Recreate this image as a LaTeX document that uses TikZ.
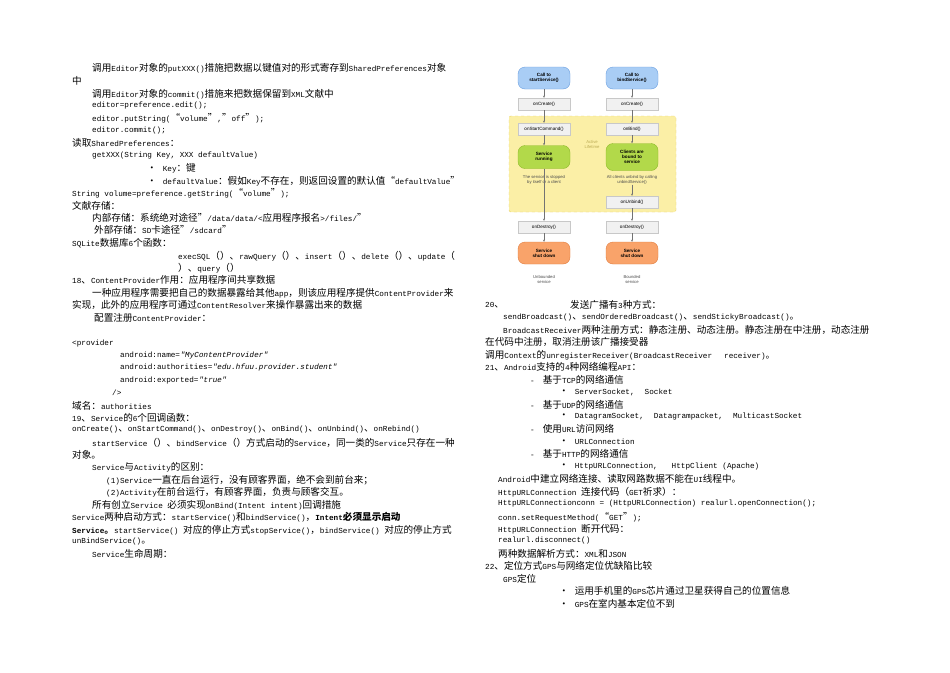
\documentclass[tikz,border=0pt]{standalone}
\usepackage{fontspec}
\setmainfont{Liberation Mono}
\newfontfamily\latf[Scale=0.8]{Liberation Mono}
\newfontfamily\cjkf{Noto Sans CJK SC}
\newfontfamily\itf[FakeSlant=0.2,Scale=0.8]{Liberation Mono}
\newfontfamily\dgf{Liberation Sans}
\makeatletter
\newXeTeXintercharclass\cjkc
\def\setcls#1#2{\count@=#1\relax\loop\XeTeXcharclass\count@=\cjkc\relax\ifnum\count@<#2\advance\count@ by 1\repeat}
\setcls{"4E00}{"9FFF}
\setcls{"3000}{"303F}
\setcls{"FF00}{"FFEF}
\setcls{"2018}{"201F}
\setcls{"2022}{"2022}
\makeatother
\XeTeXinterchartoks 0 \cjkc = {\cjkf}
\XeTeXinterchartoks 4095 \cjkc = {\cjkf}
\XeTeXinterchartoks \cjkc 0 = {\latf}
\XeTeXinterchartoks \cjkc 4095 = {\latf}
\usetikzlibrary{arrows.meta}
\definecolor{bluef}{HTML}{A9CDF5}\definecolor{blued}{HTML}{6A9FE0}
\definecolor{greenf}{HTML}{B2D94A}\definecolor{greend}{HTML}{8CB828}
\definecolor{orangef}{HTML}{F9A36A}\definecolor{oranged}{HTML}{E07C3E}
\definecolor{yelf}{HTML}{FBEFA6}\definecolor{yeld}{HTML}{E8D468}
\definecolor{grayf}{HTML}{F1F1F1}\definecolor{grayd}{HTML}{C8C8C8}
\newcounter{lnc}
\newcommand\txtline[3]{\stepcounter{lnc}\node[txt] (l\arabic{lnc}) at (#1,#2) {#3};}
\begin{document}
\XeTeXinterchartokenstate=1
\begin{tikzpicture}[x=1pt,y=-1pt,
 txt/.style={anchor=west,inner sep=0pt,font=\fontsize{9.6}{11}\selectfont\latf},
 pill/.style={rounded corners=7pt,draw,line width=0.4pt,minimum width=52pt,align=center,inner sep=1pt,font=\dgf\fontsize{4.6}{5.2}\selectfont\bfseries},
 gbox/.style={draw=grayd,fill=grayf,line width=0.4pt,minimum width=52pt,minimum height=12pt,inner sep=1pt,font=\dgf\fontsize{4.6}{5.2}\selectfont},
 note/.style={align=center,inner sep=0pt,text=black!70,font=\dgf\fontsize{4.2}{5}\selectfont},
 arr/.style={draw=black!55,line width=0.4pt,-{Stealth[length=2.2pt,width=2pt]}}]
\useasboundingbox[fill=white] (0,0) rectangle (950,672);
% left column
\txtline{92}{68}{调用Editor对象的putXXX()措施把数据以键值对的形式寄存到SharedPreferences对象}
\txtline{72}{81}{中}
\txtline{92}{94}{调用Editor对象的commit()措施来把数据保留到XML文献中}
\txtline{92}{106}{editor=preference.edit();}
\txtline{92}{118}{editor.putString(“volume”,”off”);}
\txtline{92}{131}{editor.commit();}
\txtline{72}{143}{读取SharedPreferences：}
\txtline{92}{156}{getXXX(String Key, XXX defaultValue)}
\txtline{147}{168}{•\hspace{6pt}Key：键}
\txtline{147}{181}{•\hspace{6pt}defaultValue：假如Key不存在，则返回设置的默认值“defaultValue”}
\txtline{72}{193}{String volume=preference.getString(“volume”);}
\txtline{72}{206}{文献存储：}
\txtline{92}{218}{内部存储：系统绝对途径”/data/data/<应用程序报名>/files/”}
\txtline{94}{230}{外部存储：SD卡途径”/sdcard”}
\txtline{72}{243}{SQLite数据库6个函数：}
\txtline{178}{256}{execSQL（）、rawQuery（）、insert（）、delete（）、update（}
\txtline{178}{268}{）、query（）}
\txtline{72}{280}{18、ContentProvider作用：应用程序间共享数据}
\txtline{92}{293}{一种应用程序需要把自己的数据暴露给其他app，则该应用程序提供ContentProvider来}
\txtline{72}{305}{实现，此外的应用程序可通过ContentResolver来操作暴露出来的数据}
\txtline{94}{318}{配置注册ContentProvider：}
\txtline{72}{344}{<provider}
\txtline{120}{356}{android:name={\itf "MyContentProvider"}}
\txtline{120}{368}{android:authorities={\itf "edu.hfuu.provider.student"}}
\txtline{120}{381}{android:exported={\itf "true"}}
\txtline{112}{393}{/>}
\txtline{72}{406}{域名：authorities}
\txtline{72}{418}{19、Service的6个回调函数：}
\txtline{72}{430}{onCreate()、onStartCommand()、onDestroy()、onBind()、onUnbind()、onRebind()}
\txtline{92}{443}{startService（）、bindService（）方式启动的Service，同一类的Service只存在一种}
\txtline{72}{455}{对象。}
\txtline{92}{467}{Service与Activity的区别：}
\txtline{106}{480}{(1)Service一直在后台运行，没有顾客界面，绝不会到前台来；}
\txtline{106}{492}{(2)Activity在前台运行，有顾客界面，负责与顾客交互。}
\txtline{92}{505}{所有创立Service 必须实现onBind(Intent intent)回调措施}
\txtline{72}{517}{Service两种启动方式：startService()和bindService()，\textbf{Intent必须显示启动}}
\txtline{72}{530}{\textbf{Service。}startService() 对应的停止方式stopService()，bindService() 对应的停止方式}
\txtline{72}{542}{unBindService()。}
\txtline{92}{554}{Service生命周期：}
% right column
\txtline{485}{305}{20、}
\txtline{570}{305}{发送广播有3种方式：}
\txtline{503}{318}{sendBroadcast()、sendOrderedBroadcast()、sendStickyBroadcast()。}
\txtline{503}{330}{BroadcastReceiver两种注册方式：静态注册、动态注册。静态注册在中注册，动态注册}
\txtline{485}{342}{在代码中注册，取消注册该广播接受器}
\txtline{485}{355}{调用Context的unregisterReceiver(BroadcastReceiver\hspace{12pt}receiver)。}
\txtline{485}{367}{21、Android支持的4种网络编程API：}
\txtline{530}{380}{-\hspace{8pt}基于TCP的网络通信}
\txtline{559}{392}{•\hspace{6pt}ServerSocket,\hspace{10pt}Socket}
\txtline{530}{405}{-\hspace{8pt}基于UDP的网络通信}
\txtline{559}{417}{•\hspace{6pt}DatagramSocket,\hspace{10pt}Datagrampacket,\hspace{10pt}MulticastSocket}
\txtline{530}{429}{-\hspace{8pt}使用URL访问网络}
\txtline{559}{442}{•\hspace{6pt}URLConnection}
\txtline{530}{454}{-\hspace{8pt}基于HTTP的网络通信}
\txtline{559}{467}{•\hspace{6pt}HttpURLConnection,\hspace{14pt}HttpClient (Apache)}
\txtline{498}{479}{Android中建立网络连接、读取网路数据不能在UI线程中。}
\txtline{498}{492}{HttpURLConnection 连接代码（GET祈求）：}
\txtline{498}{504}{HttpURLConnectionconn = (HttpURLConnection) realurl.openConnection();}
\txtline{498}{517}{conn.setRequestMethod(“GET”);}
\txtline{498}{529}{HttpURLConnection 断开代码：}
\txtline{498}{541}{realurl.disconnect()}
\txtline{498}{554}{两种数据解析方式：XML和JSON}
\txtline{485}{566}{22、定位方式GPS与网络定位优缺陷比较}
\txtline{503}{579}{GPS定位}
\txtline{559}{591}{•\hspace{6pt}运用手机里的GPS芯片通过卫星获得自己的位置信息}
\txtline{559}{604}{•\hspace{6pt}GPS在室内基本定位不到}
% diagram
\node[draw=yeld,fill=yelf,dashed,line width=0.4pt,rounded corners=2pt,minimum width=167pt,minimum height=96pt] (active) at (592.5,164) {};
\node[note,text=yeld!80!black] (al) at (592,144) {Active\\Lifetime};
\node[pill,fill=bluef,draw=blued,minimum height=22pt] (s1) at (544,78) {Call to\\startService()};
\node[pill,fill=bluef,draw=blued,minimum height=22pt] (b1) at (632,78) {Call to\\bindService()};
\node[gbox] (s2) at (544,104) {onCreate()};
\node[gbox] (b2) at (632,104) {onCreate()};
\node[gbox] (s3) at (544,129) {onStartCommand()};
\node[gbox] (b3) at (632,129) {onBind()};
\node[pill,fill=greenf,draw=greend,minimum height=23pt] (s4) at (544,157) {Service\\running};
\node[pill,fill=greenf,draw=greend,minimum height=27pt] (b4) at (632,157) {Clients are\\bound to\\service};
\node[note] (sn) at (544,180) {The service is stopped\\by itself or a client};
\node[note] (bn) at (632,180) {All clients unbind by calling\\unbindService()};
\node[gbox] (b5) at (632,202) {onUnbind()};
\node[gbox] (s6) at (544,227) {onDestroy()};
\node[gbox] (b6) at (632,227) {onDestroy()};
\node[pill,fill=orangef,draw=oranged,minimum height=22pt] (s7) at (544,253) {Service\\shut down};
\node[pill,fill=orangef,draw=oranged,minimum height=22pt] (b7) at (632,253) {Service\\shut down};
\node[note] (su) at (544,279) {Unbounded\\service};
\node[note] (bu) at (632,279) {Bounded\\service};
\draw[arr] (s1) -- (s2); \draw[arr] (s2) -- (s3); \draw[arr] (s3) -- (s4);
\draw[arr] (s4) -- (s6); \draw[arr] (s6) -- (s7);
\draw[arr] (b1) -- (b2); \draw[arr] (b2) -- (b3); \draw[arr] (b3) -- (b4);
\draw[arr] (bn) -- (b5); \draw[arr] (b5) -- (b6); \draw[arr] (b6) -- (b7);
\end{tikzpicture}
\end{document}
